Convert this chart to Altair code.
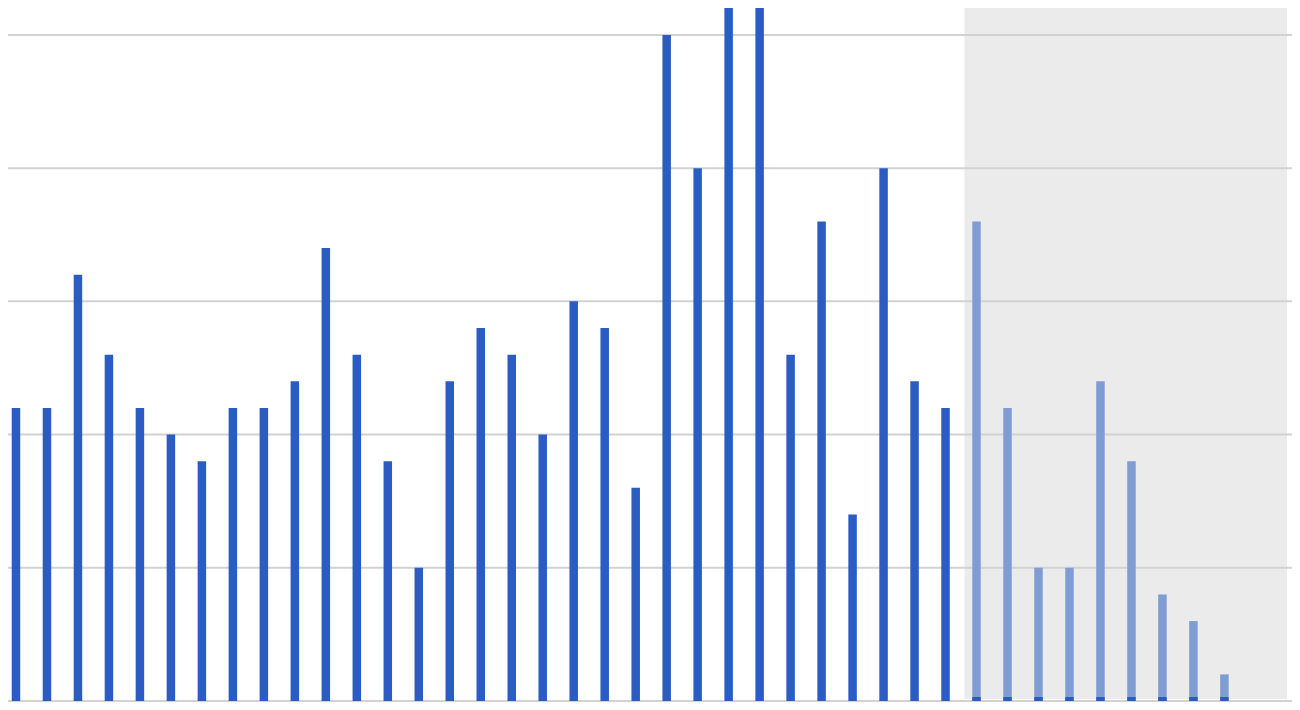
import altair as alt
import pandas as pd

# bar values (one grid step = 5 units)
values = [11, 11, 16, 13, 11, 10, 9, 11, 11, 12,
          17, 13, 9, 5, 12, 14, 13, 10, 15, 14,
          8, 25, 20, 29, 28, 13, 18, 7, 20, 12,
          11, 18, 11, 5, 5, 12, 9, 4, 3, 1]
# lighter (projected) bars start at index 31
projected_from = 31
grid_levels = [0, 5, 10, 15, 20, 25]
shade_start = 30.61

DARK = "#2a5cc4"
LIGHT = "#7f9dd2"
SHADE = "#ebebeb"
GRID = "#d2d2d2"

bars = pd.DataFrame({
    "i": list(range(len(values))),
    "v": values,
    "projected": [i >= projected_from for i in range(len(values))],
})
grid = pd.DataFrame({"g": grid_levels})

W, H = 1284, 694
X_MAX = 41.02
shade = pd.DataFrame({"x0": [shade_start], "x1": [X_MAX]})

xs = alt.Scale(domain=[-0.096, X_MAX], nice=False, zero=False)
ys = alt.Scale(domain=[-0.0375, 26.01], nice=False, zero=False)

shade_layer = alt.Chart(shade).mark_rect(color=SHADE).encode(
    x=alt.X("x0:Q", scale=xs, axis=None),
    x2="x1:Q",
    y=alt.value(0),
    y2=alt.value(691),
)

grid_layer = alt.Chart(grid).mark_rule(color=GRID, strokeWidth=2).encode(
    y=alt.Y("g:Q", scale=ys, axis=None),
)

bar_layer = alt.Chart(bars).mark_bar(size=8.5, clip=True).encode(
    x=alt.X("i:Q", scale=xs, axis=None),
    y=alt.Y("v:Q", scale=ys, axis=None),
    y2=alt.datum(0),
    color=alt.condition("datum.projected", alt.value(LIGHT), alt.value(DARK)),
)

base_layer = alt.Chart(bars).transform_filter("datum.projected").mark_bar(
    size=8.5, color=DARK
).encode(
    x=alt.X("i:Q", scale=xs, axis=None),
    y=alt.datum(0, scale=ys),
    y2=alt.value(689),
)

chart = alt.layer(shade_layer, grid_layer, bar_layer, base_layer).properties(
    width=W, height=H, padding=0, autosize=alt.AutoSizeParams(type="none"),
    background="white",
).configure_view(stroke=None)

chart.save("out.html", embed_options={"renderer": "svg", "actions": False})
